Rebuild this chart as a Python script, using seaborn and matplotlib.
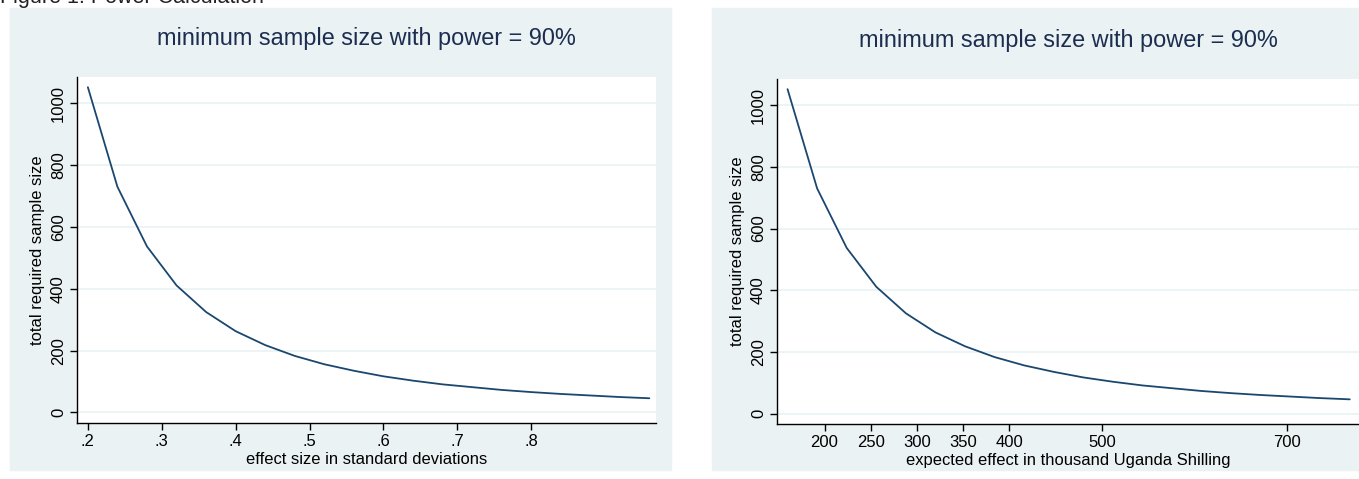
import matplotlib
matplotlib.use("Agg")
import matplotlib.pyplot as plt
import seaborn as sns
import pandas as pd
from matplotlib.patches import Rectangle

# effect sizes (SD units) and required total sample size
effect_sd = [0.20, 0.24, 0.28, 0.32, 0.36, 0.40, 0.44, 0.48, 0.52, 0.56,
             0.60, 0.64, 0.68, 0.72, 0.76, 0.80, 0.84, 0.88, 0.92, 0.96]
effect_ugx = [160, 192, 224, 256, 288, 320, 352, 384, 416, 448,
              480, 512, 544, 576, 608, 640, 672, 704, 736, 768]
sample_size = [1052, 730, 537, 411, 325, 263, 218, 183, 156, 135,
               117, 103, 91, 82, 73, 66, 60, 55, 50, 46]

sd_ticks = [0.2, 0.3, 0.4, 0.5, 0.6, 0.7, 0.8]
sd_labels = [".2", ".3", ".4", ".5", ".6", ".7", ".8"]
ugx_ticks = [200, 250, 300, 350, 400, 500, 700]
y_ticks = [0, 200, 400, 600, 800, 1000]

df = pd.DataFrame({"sd": effect_sd, "ugx": effect_ugx, "n": sample_size})

BG = "#EAF2F3"
LINE = "#1A476F"
TITLE = "#1C2D50"

sns.set_theme(style="white")
plt.rcParams["font.family"] = ["Liberation Sans", "DejaVu Sans"]

fig = plt.figure(figsize=(13.59, 4.79), dpi=100)
W, H = 1359, 479

# graph region backgrounds (behind the axes)
for x0, w in [(10, 661), (712, 660)]:
    fig.add_artist(Rectangle((x0 / W, 9 / H), w / W, 462 / H,
                             transform=fig.transFigure, color=BG, zorder=-5))

fig.text(0.0, 1.0 + 3 / H, "Figure 1: Power Calculation", fontsize=15.5,
         ha="left", va="center", color="#222222")

ax1 = fig.add_axes([77 / W, (H - 423) / H, (656 - 77) / W, 346 / H])
ax2 = fig.add_axes([777 / W, (H - 424) / H, (W - 777) / W, 345 / H])

panels = [
    (ax1, "sd", "effect size in standard deviations", (0.1853, 0.969),
     sd_ticks, sd_labels),
    (ax2, "ugx", "expected effect in thousand Uganda Shilling", (148.6, 778),
     ugx_ticks, [str(t) for t in ugx_ticks]),
]

for ax, xcol, xlabel, xlim, xt, xtl in panels:
    ax.set_facecolor("white")
    sns.lineplot(data=df, x=xcol, y="n", ax=ax, color=LINE, linewidth=1.3)
    ax.set_xlim(*xlim)
    ax.set_ylim(-34, 1085)
    ax.set_xticks(xt)
    ax.set_xticklabels(xtl)
    ax.set_yticks(y_ticks)
    ax.set_yticklabels([str(t) for t in y_ticks], rotation=90, va="center")
    ax.yaxis.grid(True, color=BG, linewidth=1.2)
    ax.xaxis.grid(False)
    for s in ["top", "right"]:
        ax.spines[s].set_visible(False)
    for s in ["left", "bottom"]:
        ax.spines[s].set_color("black")
        ax.spines[s].set_linewidth(1.0)
    ax.tick_params(axis="both", direction="out", length=5, width=1,
                   color="black", labelsize=12, labelcolor="black", pad=3,
                   bottom=True, left=True)
    ax.set_xlabel(xlabel, fontsize=11.9, color="black", labelpad=2)
    ax.set_ylabel("total required sample size", fontsize=11.9, color="black",
                  labelpad=4)
    ax.set_title("minimum sample size with power = 90%", fontsize=16.9,
                 color=TITLE, pad=23)

fig.savefig("out.png", dpi=100)
